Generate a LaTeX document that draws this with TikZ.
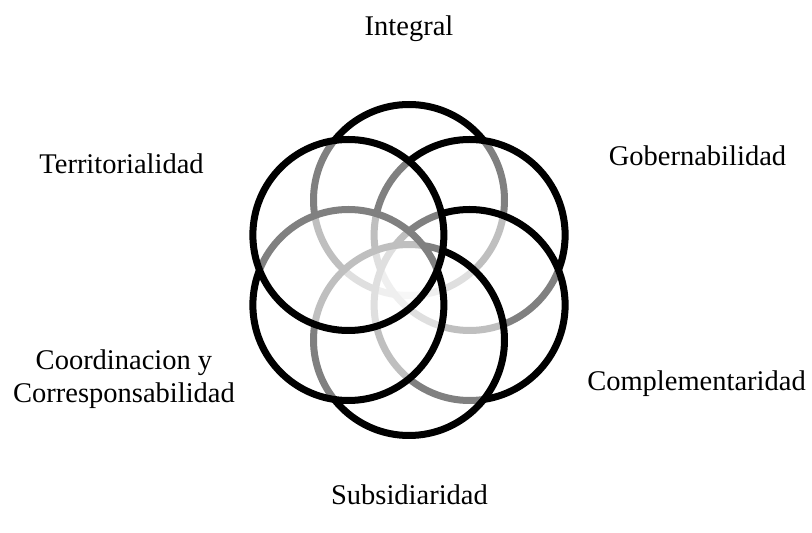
\documentclass[tikz,border=0pt]{standalone}
\usepackage{fontspec}
\setmainfont{Liberation Serif}
\usepackage{tikz}

\begin{document}
\begin{tikzpicture}[x=1pt, y=1pt,
  ring/.style={line width=7pt, draw=black, fill=white, fill opacity=0.5},
  lbl/.style={font=\fontsize{28.5}{33}\selectfont, anchor=base, inner sep=0pt}]

  \useasboundingbox (0,0) rectangle (812,533);

  \newcommand\R{95.5}
  \newcommand\D{70}
  \coordinate (mid) at (409,263);

  %% rings, clockwise from the top; each one half hides the ones drawn before it
  \draw[ring] (mid) ++(90:\D) circle (\R);   %% Integral
  \draw[ring] (mid) ++(30:\D) circle (\R);   %% Gobernabilidad
  \draw[ring] (mid) ++(-30:\D) circle (\R);  %% Complementaridad
  \draw[ring] (mid) ++(-90:\D) circle (\R);  %% Subsidiaridad
  \draw[ring] (mid) ++(210:\D) circle (\R);  %% Coordinacion
  \draw[ring] (mid) ++(150:\D) circle (\R);  %% Territorialidad

  \node[lbl] (integral) at (409,497) {Integral};
  \node[lbl] (gober) at (697.5,367) {Gobernabilidad};
  \node[lbl] (compl) at (696.5,142) {Complementaridad};
  \node[lbl] (subsid) at (409.5,28) {Subsidiaridad};
  \node[lbl, align=center] (coord) at (124,130) {Coordinacion y\\Corresponsabilidad};
  \node[lbl] (territ) at (121.5,359) {Territorialidad};
\end{tikzpicture}
\end{document}
